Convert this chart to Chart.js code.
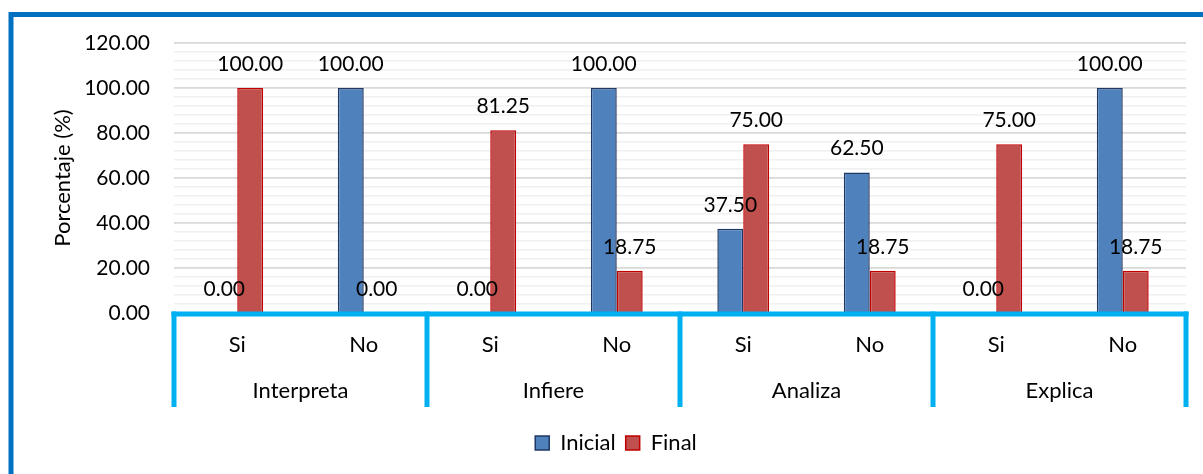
<!DOCTYPE html>
<html>
<head>
<meta charset="utf-8">
<script src="https://cdn.jsdelivr.net/npm/chart.js@4/dist/chart.umd.min.js"></script>
<style>
  html, body { margin: 0; padding: 0; background: #fff; }
  #wrap { width: 1203px; height: 474px; position: relative; }
</style>
</head>
<body>
<div id="wrap"><canvas id="c" width="1203" height="474"></canvas></div>
<script>
// Category structure: two answers (Si / No) inside each skill group
const groups = ['Interpreta', 'Infiere', 'Analiza', 'Explica'];
const answers = ['Si', 'No', 'Si', 'No', 'Si', 'No', 'Si', 'No'];

// Percentages per answer, initial and final measurement
const inicial = [0, 100, 0, 100, 37.5, 62.5, 0, 100];
const final = [100, 0, 81.25, 18.75, 75, 18.75, 75, 18.75];

// Y axis range and spacing (major labelled lines every 20, light lines every 4)
const yMin = 0;
const yMax = 120;
const yMinorStep = 4;
const yMajorStep = 20;

const FONT = 'Lato, "Open Sans", sans-serif';
const TEXT_SIZE = 22;
const NUM_SIZE = 21;
const CYAN = '#00b0f0';

Chart.defaults.font.family = FONT;
Chart.defaults.font.size = TEXT_SIZE;
Chart.defaults.color = '#000';

// Outer frame of the figure
const framePlugin = {
  id: 'frame',
  beforeDraw(chart) {
    const ctx = chart.ctx;
    ctx.save();
    ctx.fillStyle = '#fff';
    ctx.fillRect(0, 0, chart.width, chart.height);
    ctx.strokeStyle = '#0070c0';
    ctx.lineWidth = 5;
    ctx.strokeRect(11, 14.5, chart.width + 40, chart.height + 40);
    ctx.restore();
  }
};

// Two-level category axis: base line, group separators and group names
const groupAxisPlugin = {
  id: 'groupAxis',
  afterDatasetsDraw(chart) {
    const ctx = chart.ctx;
    const x = chart.scales.x;
    const area = chart.chartArea;
    const step = (x.getPixelForValue(1) - x.getPixelForValue(0));
    ctx.save();
    ctx.strokeStyle = CYAN;
    ctx.lineWidth = 5;
    ctx.beginPath();
    ctx.moveTo(area.left - 2.5, area.bottom + 1);
    ctx.lineTo(area.right + 2.5, area.bottom + 1);
    ctx.stroke();
    const perGroup = answers.length / groups.length;
    for (let g = 0; g <= groups.length; g++) {
      const px = x.getPixelForValue(g * perGroup) - step / 2;
      ctx.beginPath();
      ctx.moveTo(px, area.bottom - 1.5);
      ctx.lineTo(px, area.bottom + 94);
      ctx.stroke();
    }
    ctx.fillStyle = '#000';
    ctx.font = TEXT_SIZE + 'px ' + FONT;
    ctx.textAlign = 'center';
    ctx.textBaseline = 'alphabetic';
    groups.forEach((name, g) => {
      const a = x.getPixelForValue(g * perGroup);
      const b = x.getPixelForValue(g * perGroup + perGroup - 1);
      ctx.fillText(name, (a + b) / 2, area.bottom + 85);
    });
    ctx.restore();
  }
};

// Value labels above every bar
const valueLabelPlugin = {
  id: 'valueLabels',
  afterDatasetsDraw(chart) {
    const ctx = chart.ctx;
    ctx.save();
    ctx.fillStyle = '#000';
    ctx.font = NUM_SIZE + 'px ' + FONT;
    ctx.textAlign = 'center';
    ctx.textBaseline = 'alphabetic';
    chart.data.datasets.forEach((ds, i) => {
      const meta = chart.getDatasetMeta(i);
      meta.data.forEach((bar, j) => {
        ctx.fillText(ds.data[j].toFixed(2), bar.x, bar.y - 17);
      });
    });
    ctx.restore();
  }
};

new Chart(document.getElementById('c'), {
  type: 'bar',
  data: {
    labels: answers,
    datasets: [
      {
        label: 'Inicial',
        data: inicial,
        backgroundColor: '#4f81bd',
        borderColor: '#1f3864',
        borderWidth: 1.5,
        borderSkipped: 'bottom'
      },
      {
        label: 'Final',
        data: final,
        backgroundColor: '#c0504d',
        borderColor: '#c00000',
        borderWidth: 1.5,
        borderSkipped: 'bottom'
      }
    ]
  },
  options: {
    responsive: false,
    animation: false,
    devicePixelRatio: 1,
    layout: { padding: { left: 46, right: 17, top: 43, bottom: 10 } },
    datasets: {
      bar: { barPercentage: 1, categoryPercentage: 0.41 }
    },
    scales: {
      x: {
        grid: { display: false, drawTicks: false },
        border: { display: false },
        ticks: { padding: 19, font: { size: TEXT_SIZE }, color: '#000', autoSkip: false, maxRotation: 0 },
        afterFit(scale) { scale.height = 109; }
      },
      y: {
        min: yMin,
        max: yMax,
        border: { display: false },
        grid: {
          drawTicks: false,
          color: c => (c.tick && c.tick.value % yMajorStep === 0) ? '#d9d9d9' : '#f0f0f0',
          lineWidth: c => (c.tick && c.tick.value % yMajorStep === 0) ? 1.8 : 1.5
        },
        ticks: {
          stepSize: yMinorStep,
          autoSkip: false,
          padding: 24,
          color: '#000',
          font: { size: NUM_SIZE },
          callback: v => (v % yMajorStep === 0) ? Number(v).toFixed(2) : ''
        },
        title: {
          display: true,
          text: 'Porcentaje (%)',
          color: '#000',
          font: { size: TEXT_SIZE }
        },
        afterFit(scale) { scale.width = 128; }
      }
    },
    plugins: {
      legend: {
        position: 'bottom',
        labels: {
          boxWidth: 14,
          boxHeight: 14,
          padding: 10,
          color: '#000',
          font: { size: TEXT_SIZE }
        }
      },
      tooltip: { enabled: false }
    }
  },
  plugins: [framePlugin, groupAxisPlugin, valueLabelPlugin]
});
</script>
</body>
</html>
